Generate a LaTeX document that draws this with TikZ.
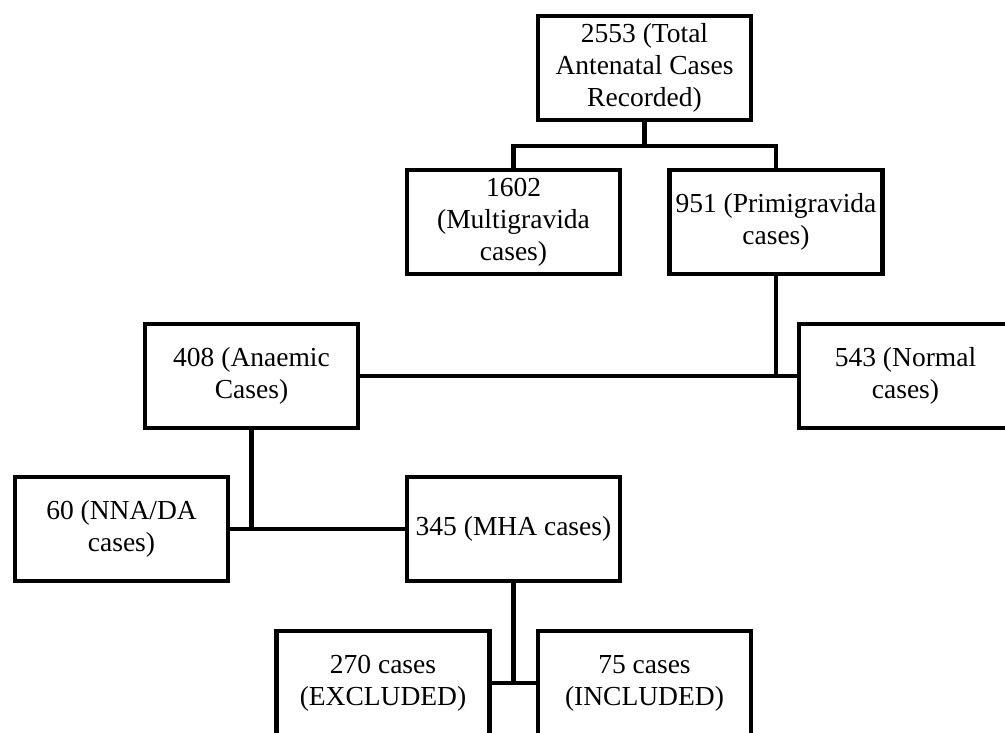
\documentclass[tikz,border=0pt]{standalone}
\usepackage{fontspec}
\setmainfont{Liberation Serif}
\usepackage{tikz}
\usetikzlibrary{calc}

\begin{document}
\begin{tikzpicture}[x=1pt,y=-1pt,
	casebox/.style={rectangle,draw,line width=4.6pt,fill=white,align=center,
		minimum width=213pt,minimum height=104pt,inner sep=2pt,
		font=\fontsize{27.5}{32}\selectfont},
	link/.style={line width=4.2pt}]

	\clip (0,0) rectangle (1005,733);

	% boxes

	\node[casebox] (total) at (644.5,68) {2553 (Total\\Antenatal Cases\\Recorded)};
	\node[casebox] (multi) at (513.5,222) {1602\\(Multigravida\\cases)};
	\node[casebox] (primi) at (776,222) {951 (Primigravida\\cases)};
	\node[casebox] (anaemic) at (251.5,376) {408 (Anaemic\\Cases)};
	\node[casebox] (normal) at (905.5,376) {543 (Normal\\cases)};
	\node[casebox] (nna) at (121.5,529) {60 (NNA/DA\\cases)};
	\node[casebox] (mha) at (513.5,529) {345 (MHA cases)};
	\node[casebox] (excl) at (383,683) {270 cases\\(EXCLUDED)};
	\node[casebox] (incl) at (644.5,683) {75 cases\\(INCLUDED)};

	% connectors

	\coordinate (split) at (644.5,146);
	\draw[link] (total.south) -- (split);
	\draw[link] (multi.north) |- (split) -| (primi.north);

	\draw[link] (anaemic.east) -- (normal.west);
	\draw[link] (primi.south) -- (primi.south |- anaemic.east);

	\draw[link] (nna.east) -- (mha.west);
	\draw[link] (anaemic.south) -- (anaemic.south |- mha.west);

	\draw[link] (excl.east) -- (incl.west);
	\draw[link] (mha.south) -- (mha.south |- excl.east);

\end{tikzpicture}
\end{document}
